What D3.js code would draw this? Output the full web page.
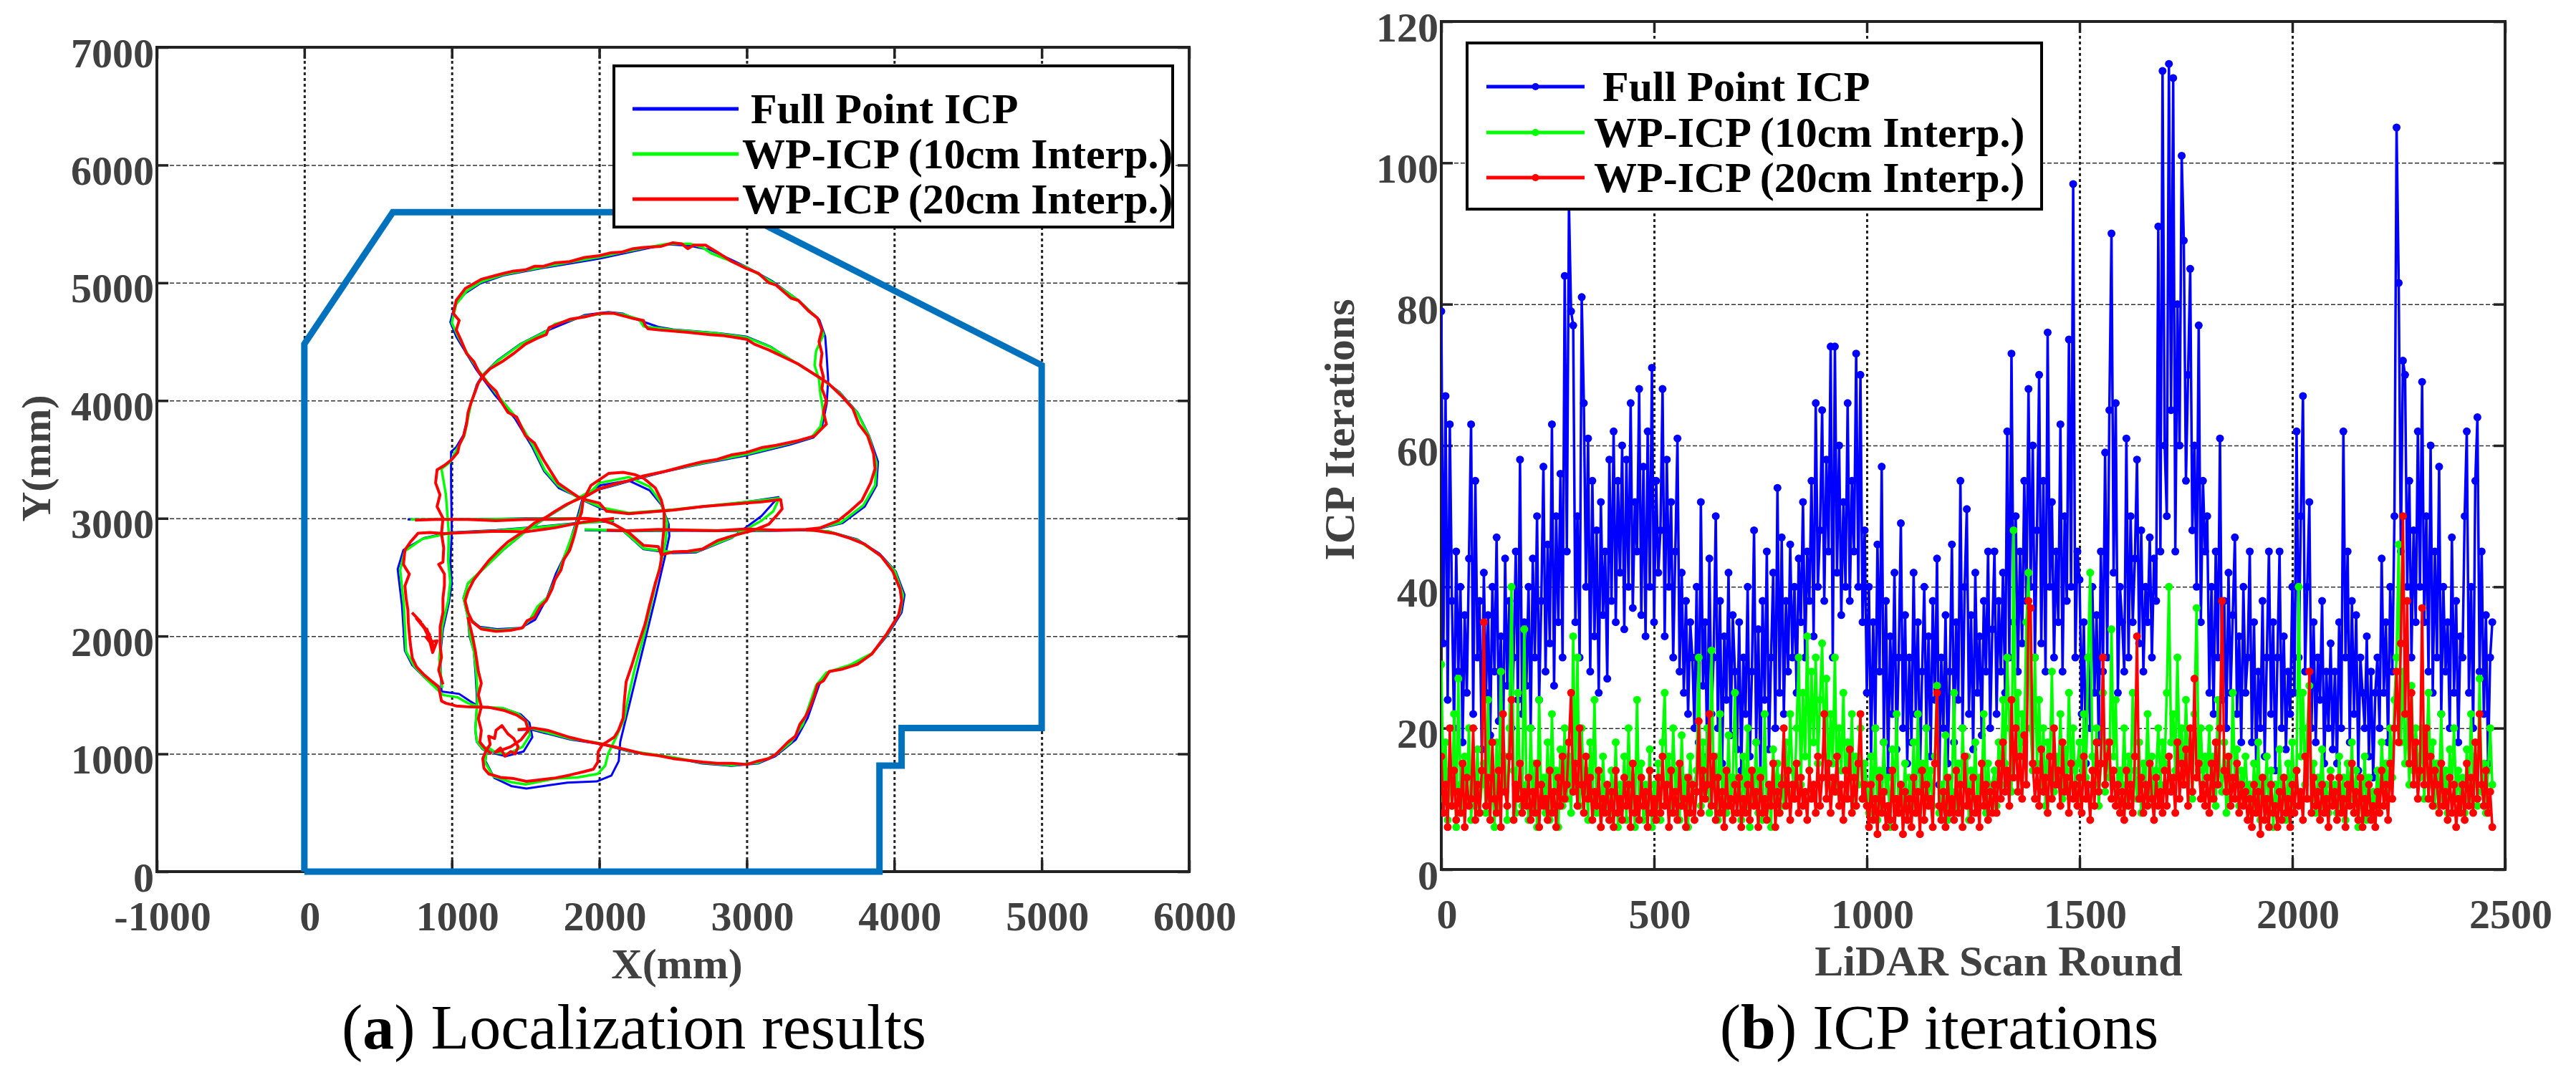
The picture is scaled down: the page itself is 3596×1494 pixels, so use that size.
<!DOCTYPE html>
<html><head><meta charset="utf-8">
<script src="https://cdn.jsdelivr.net/npm/d3@7"></script>
<style>body{margin:0;background:#fff}svg{display:block}</style>
</head><body>
<svg id="c" width="3596" height="1494"></svg>
<script>
// ---------------- (a) Localization results : data in mm ----------------
const wallX = [0, 0, 600, 2950, 5000, 5000, 4050, 4050, 3900, 3900, 0];
const wallY = [0, 4480, 5600, 5600, 4300, 1220, 1220, 900, 900, 0, 0];

const fullICP = [
 [[1864,3177],[1725,3258],[1626,3401],[1546,3605],[1427,3850],[1288,4054],[1169,4258],[1109,4380],[1030,4543],[990,4666],[1020,4808],[1089,4910],[1189,4992],[1348,5063],[1606,5124],[2003,5206],[2301,5287],[2460,5328],[2619,5314],[2758,5277],[2996,5135],[3175,5012],[3353,4849],[3492,4686],[3532,4543],[3542,4380],[3552,4176],[3542,3972],[3512,3789],[3453,3687],[3294,3626],[2996,3534],[2698,3463],[2460,3401],[2241,3330],[2102,3279],[1943,3228],[1864,3177]],
 [[1864,3177],[1705,3055],[1626,2994],[1506,2894],[1348,2731],[1228,2589],[1109,2446],[1079,2324],[1109,2161],[1189,2079],[1308,2059],[1467,2069],[1566,2140],[1645,2324],[1705,2527],[1784,2731],[1844,2976],[1884,3157],[2003,3279],[2201,3320],[2341,3238],[2420,3116],[2470,2953],[2475,2850],[2450,2700],[2380,2324],[2321,2018],[2261,1713],[2202,1407],[2142,1102],[2132,939],[2082,816],[1983,766],[1784,756],[1506,705],[1407,725],[1288,796],[1228,939],[1240,1060]],
 [[1240,1060],[1300,1000],[1367,980],[1487,1020],[1546,1142],[1526,1265],[1467,1336],[1348,1387],[1189,1397],[1120,1450],[1050,1509],[930,1529],[831,1631],[732,1753],[682,1876],[662,2263],[633,2568],[672,2731],[811,2833],[990,2880],[1300,2900],[1600,2930],[1850,2960],[2100,2975]],
 [[930,1529],[921,1835],[940,2059],[980,2283],[1000,2446],[990,2629],[1000,2874],[995,3300],[995,3565],[1030,3605],[1079,3707],[1129,3972],[1169,4135],[1209,4217],[1308,4339],[1467,4482],[1626,4584],[1784,4666],[1904,4727],[2063,4751],[2162,4737],[2261,4686],[2400,4625],[2500,4604],[2797,4574],[2996,4543],[3155,4462],[3333,4319],[3492,4197],[3627,4074],[3750,3900],[3830,3700],[3890,3480],[3880,3280],[3800,3100],[3650,2960],[3450,2900],[3000,2890],[2600,2895],[2200,2890],[1900,2900]],
 [[1447,1204],[1546,1204],[1804,1122],[2023,1081],[2202,1020],[2500,969],[2698,918],[2897,898],[3075,918],[3194,980],[3333,1122],[3413,1305],[3492,1590],[3552,1692],[3700,1750],[3850,1850],[3950,2000],[4050,2200],[4070,2350],[4010,2550],[3900,2700],[3750,2820],[3550,2890],[3400,2900]],
 [[1880,3160],[2020,3080],[2200,3040],[2500,3070],[3000,3140],[3215,3180],[3100,3020],[2897,2833],[2658,2711],[2500,2705],[2300,2738],[2142,2916],[2050,2980],[1900,3000],[1500,3000],[1100,2990],[700,2990]],
 [[1109,2161],[1120,2000],[1149,1876],[1160,1700],[1169,1509],[1169,1387],[1159,1203],[1169,1102],[1209,1040],[1260,1000]]
];

const wp10 = [
 [[1860,3175],[1720,3280],[1630,3410],[1550,3620],[1440,3850],[1300,4060],[1180,4260],[1110,4390],[1040,4550],[1000,4660],[1030,4820],[1100,4930],[1200,5010],[1350,5070],[1600,5130],[2000,5220],[2300,5295],[2460,5330],[2620,5330],[2700,5300],[2760,5250],[2900,5180],[3000,5130],[3180,5000],[3350,4850],[3480,4700],[3520,4560],[3470,4420],[3460,4300],[3490,4180],[3500,4050],[3520,3900],[3500,3780],[3440,3690],[3300,3640],[3000,3545],[2700,3470],[2460,3405],[2240,3335],[2100,3285],[1940,3232],[1860,3175]],
 [[1860,3175],[1710,3060],[1630,3000],[1510,2900],[1350,2735],[1230,2590],[1110,2450],[1080,2320],[1110,2160],[1190,2070],[1310,2050],[1470,2065],[1530,2140],[1580,2250],[1650,2330],[1690,2450],[1720,2530],[1770,2700],[1830,2900],[1870,3050],[1890,3160],[2000,3300],[2200,3350],[2340,3270],[2420,3130],[2460,2960],[2450,2800],[2430,2680],[2400,2540],[2360,2320],[2310,2040],[2240,1720],[2200,1500],[2170,1300],[2110,1130],[2060,1000],[2040,900],[1990,830],[1850,800],[1700,790],[1500,740],[1400,760],[1280,810],[1225,930],[1240,1060]],
 [[1240,1060],[1300,1010],[1380,1000],[1480,1060],[1530,1160],[1510,1270],[1450,1340],[1340,1390],[1190,1398],[1110,1430],[1040,1480],[940,1500],[840,1620],[745,1745],[690,1870],[675,2260],[650,2560],[680,2720],[800,2825],[990,2875],[1300,2895],[1600,2925],[1850,2955],[2100,2985]],
 [[935,1560],[915,1800],[935,2080],[975,2300],[990,2460],[975,2640],[980,2870],[960,3200],[930,3420],[990,3480],[1040,3600],[1085,3700],[1130,3975],[1175,4140],[1215,4220],[1310,4335],[1470,4480],[1630,4580],[1700,4650],[1790,4680],[1910,4720],[2070,4745],[2165,4730],[2270,4690],[2300,4630],[2400,4615],[2500,4600],[2800,4570],[3000,4535],[3160,4455],[3340,4315],[3495,4195],[3630,4065],[3750,3895],[3830,3690],[3880,3470],[3870,3280],[3790,3110],[3640,2965],[3450,2905],[3000,2895],[2600,2900],[2200,2895],[1900,2905]],
 [[1447,1210],[1546,1215],[1804,1130],[2023,1085],[2202,1025],[2500,970],[2698,925],[2897,905],[3075,925],[3194,990],[3300,1100],[3380,1250],[3420,1400],[3470,1580],[3540,1690],[3700,1755],[3850,1855],[3950,2010],[4040,2200],[4060,2350],[4005,2550],[3900,2690],[3750,2815],[3550,2890],[3400,2900]],
 [[1890,3160],[2020,3090],[2200,3045],[2500,3075],[3000,3140],[3220,3170],[3180,3060],[3100,2980],[2900,2840],[2660,2720],[2500,2712],[2300,2745],[2150,2910],[2050,2985],[1900,3000],[1500,2995],[1100,2990],[720,2990]],
 [[1109,2161],[1125,2000],[1150,1870],[1165,1700],[1175,1510],[1170,1390],[1160,1205],[1170,1105],[1210,1045],[1260,1005]]
];

const wp20 = [
 [[1870,3170],[1800,3230],[1720,3300],[1660,3420],[1620,3500],[1560,3640],[1500,3700],[1440,3860],[1380,3900],[1330,4000],[1300,4080],[1240,4150],[1180,4250],[1150,4330],[1100,4400],[1060,4520],[1030,4600],[1050,4680],[1010,4740],[1030,4850],[1090,4950],[1200,5030],[1350,5080],[1420,5100],[1500,5110],[1560,5140],[1620,5140],[1700,5170],[1800,5180],[1900,5215],[2000,5230],[2080,5255],[2150,5260],[2230,5290],[2300,5300],[2420,5310],[2500,5340],[2560,5330],[2600,5290],[2640,5320],[2720,5320],[2760,5290],[2800,5260],[2900,5180],[3000,5120],[3080,5080],[3150,5000],[3200,4980],[3300,4870],[3350,4850],[3420,4760],[3480,4700],[3510,4600],[3490,4500],[3510,4400],[3500,4300],[3520,4200],[3510,4100],[3540,4000],[3520,3900],[3540,3800],[3460,3700],[3350,3660],[3200,3620],[3100,3600],[3000,3560],[2900,3540],[2800,3500],[2700,3480],[2600,3450],[2450,3400],[2300,3360],[2200,3320],[2100,3290],[2000,3250],[1930,3200],[1870,3170]],
 [[1870,3170],[1780,3120],[1700,3060],[1640,3010],[1560,2960],[1500,2900],[1440,2850],[1380,2800],[1320,2730],[1250,2640],[1200,2560],[1150,2480],[1110,2380],[1090,2300],[1110,2200],[1140,2120],[1200,2060],[1300,2040],[1400,2050],[1480,2070],[1510,2130],[1560,2160],[1600,2250],[1640,2300],[1680,2400],[1700,2480],[1740,2560],[1760,2650],[1800,2730],[1830,2850],[1850,2950],[1880,3050],[1890,3150],[1943,3279],[2063,3381],[2162,3391],[2241,3371],[2301,3340],[2380,3258],[2420,3157],[2440,3055],[2440,2935],[2430,2800],[2420,2650],[2410,2568],[2380,2450],[2341,2263],[2310,2100],[2261,1916],[2220,1750],[2182,1611],[2170,1450],[2162,1305],[2130,1200],[2102,1142],[2050,1100],[2023,1081]],
 [[2023,1081],[1993,1020],[1990,930],[1960,870],[1900,850],[1800,820],[1705,796],[1600,780],[1506,766],[1420,790],[1330,800],[1250,830],[1218,878],[1210,960],[1230,1020],[1260,1080],[1250,1150],[1290,1130],[1300,1200],[1340,1240],[1380,1170],[1420,1130],[1450,1060],[1430,1000],[1400,1020],[1360,980],[1330,1050],[1290,1010]],
 [[1290,1010],[1400,1060],[1470,1120],[1520,1200],[1500,1280],[1440,1330],[1350,1370],[1250,1395],[1169,1397],[1100,1400],[1030,1407],[960,1430],[930,1448],[911,1570],[860,1620],[811,1672],[760,1740],[732,1815],[720,1920],[712,2018],[705,2120],[702,2222],[690,2320],[682,2426],[712,2527],[690,2570],[672,2609],[682,2731],[720,2800],[772,2874],[850,2880],[950,2870],[1100,2880],[1300,2890],[1500,2885],[1700,2920],[1900,2970],[2100,3000]],
 [[940,1590],[911,1713],[930,1820],[921,1916],[921,2079],[940,2200],[940,2324],[950,2430],[950,2527],[911,2609],[940,2629],[945,2750],[930,2870],[940,3000],[900,3100],[920,3200],[890,3300],[900,3412],[950,3450],[1000,3500],[1040,3560],[1050,3620],[1080,3700],[1100,3800],[1110,3900],[1130,3980],[1160,4080],[1180,4150],[1220,4220],[1260,4270],[1340,4330],[1420,4400],[1500,4480],[1580,4530],[1640,4560],[1660,4620],[1700,4640],[1800,4690],[1900,4710],[2000,4740],[2100,4740],[2160,4720],[2220,4700],[2300,4680],[2310,4640],[2330,4610],[2400,4600],[2500,4590],[2600,4580],[2750,4560],[2850,4550],[3000,4520],[3050,4480],[3150,4430],[3250,4370],[3350,4310],[3450,4230],[3550,4150],[3650,4030],[3720,3930],[3760,3800],[3820,3700],[3860,3550],[3870,3420],[3840,3300],[3780,3150],[3700,3060],[3620,2980],[3500,2920],[3400,2905],[3200,2900],[3000,2910],[2800,2895],[2600,2900],[2400,2905],[2200,2895],[2050,2900]],
 [[1447,1204],[1550,1220],[1650,1200],[1800,1140],[1900,1110],[2023,1081],[2102,1060],[2202,1030],[2300,1000],[2400,985],[2500,960],[2600,945],[2700,930],[2800,920],[2900,920],[3000,910],[3080,940],[3150,960],[3200,1000],[3280,1100],[3330,1150],[3360,1250],[3400,1320],[3430,1400],[3460,1500],[3480,1590],[3520,1620],[3560,1700],[3650,1720],[3750,1760],[3850,1850],[3950,2020],[4030,2180],[4050,2300],[4040,2400],[3990,2550],[3910,2680],[3800,2780],[3700,2830],[3600,2870],[3450,2900],[3400,2900]],
 [[1900,3160],[2000,3130],[2050,3060],[2200,3040],[2300,3050],[2500,3070],[2700,3100],[2900,3120],[3000,3130],[3100,3140],[3230,3160],[3240,3080],[3200,3020],[3150,2950],[3050,2900],[2900,2850],[2800,2810],[2700,2740],[2600,2720],[2500,2715],[2420,2690],[2400,2760],[2300,2770],[2200,2880],[2100,2950],[2000,2990],[1900,3000],[1700,2990],[1500,2990],[1300,2980],[1100,2990],[900,2990],[750,2985]],
 [[1109,2161],[1140,2000],[1160,1870],[1180,1700],[1200,1600],[1180,1500],[1200,1400],[1180,1300],[1200,1200],[1190,1100],[1230,1040],[1270,1000]],
 [[730,2200],[790,2120],[760,2150],[850,2010],[800,2100],[880,1900],[830,2060],[870,1860],[900,1960],[850,1950],[820,2000]]
];

const xTicksA = [-1000,0,1000,2000,3000,4000,5000,6000];
const yTicksA = [0,1000,2000,3000,4000,5000,6000,7000];

// ---------------- (b) ICP iterations (every 5th scan round) ----------------
const scanStep = 5;
const iterFull = [
79,32,67,24,63,38,20,45,28,40,18,36,25,44,63,22,55,30,38,17,
42,25,36,19,40,28,47,21,33,16,44,26,38,20,30,45,24,58,22,35,
26,40,20,44,30,50,24,38,57,28,46,32,63,26,50,35,56,30,84,45,
94,79,77,35,50,30,81,66,40,61,28,55,33,48,25,52,36,45,27,58,
38,62,35,55,42,60,34,58,40,66,37,52,45,68,36,57,33,62,40,71,
35,55,42,48,68,33,58,40,52,30,45,61,28,42,25,38,22,35,30,20,
40,18,52,26,35,16,44,22,30,50,20,38,15,33,24,42,19,36,28,17,
35,14,30,22,40,16,28,48,18,34,13,38,24,45,17,30,42,20,54,25,
47,22,38,28,46,30,40,25,44,35,52,30,45,38,55,33,66,40,48,65,
38,58,45,74,30,74,42,60,36,52,40,66,38,55,45,73,40,70,35,48,
25,40,16,35,20,46,28,57,18,38,14,33,22,42,17,30,49,20,36,15,
30,18,42,22,35,14,28,40,20,33,16,38,24,44,12,30,20,36,15,28,
46,18,35,24,55,20,40,51,22,36,17,42,25,33,19,38,28,45,20,34,
45,22,38,28,42,25,62,30,73,35,50,28,45,32,55,38,68,40,60,30,
48,70,32,55,28,76,40,52,30,45,35,63,28,50,38,75,40,97,30,45,
41,22,35,15,30,20,40,25,36,18,45,28,59,30,65,90,42,66,25,40,
35,28,61,30,50,35,44,58,32,48,28,40,35,47,30,44,38,91,45,113,
60,50,114,65,112,45,80,60,101,89,55,70,85,48,60,40,77,35,55,45,
50,25,40,22,45,30,61,24,38,20,42,25,36,47,22,33,18,40,25,30,
45,18,35,15,28,20,38,16,30,45,22,35,14,30,45,20,33,17,28,22,
40,25,62,30,50,67,28,40,52,20,35,18,30,24,38,15,28,20,32,17,
28,15,35,20,62,30,45,18,38,22,36,14,30,25,20,33,16,28,13,25,
30,20,44,25,35,18,40,28,50,105,83,45,72,70,40,55,30,48,35,62,
40,69,35,50,28,60,25,45,30,57,22,40,28,35,20,47,25,38,18,33,
30,50,62,25,40,20,55,64,28,45,22,36,15,30,35];

const iterWP10 = [
29,10,18,7,14,9,22,6,27,12,8,16,10,20,7,13,9,17,8,12,
15,8,24,10,13,6,18,9,28,11,16,7,20,40,14,8,25,12,9,34,
12,7,20,9,15,6,24,10,13,8,18,7,22,11,14,6,17,9,20,10,
16,8,33,12,30,9,20,11,14,7,18,10,24,8,13,6,16,9,12,7,
14,8,18,6,12,9,16,7,20,10,13,6,24,9,15,7,12,8,17,6,
12,9,15,7,18,25,10,16,8,20,11,14,7,19,9,13,6,16,10,12,
14,30,9,18,11,20,8,31,12,16,7,22,10,14,8,19,9,13,25,10,
12,7,16,9,20,6,13,10,18,8,14,7,22,9,12,6,17,10,15,8,
13,9,18,11,22,14,10,20,30,12,25,16,33,14,28,18,30,15,24,32,
16,27,12,22,15,30,11,20,14,25,10,18,13,22,9,16,12,20,10,15,
12,8,16,10,20,7,14,9,18,11,13,6,17,10,22,8,12,9,15,7,
13,9,18,8,22,11,15,7,20,10,14,9,16,26,8,12,10,19,7,13,
11,25,9,15,8,20,12,16,7,14,10,18,9,13,11,22,8,15,10,12,
14,9,18,12,24,15,30,20,11,48,16,25,13,22,18,35,42,20,14,30,
15,24,12,20,9,18,14,28,11,16,13,22,10,17,12,25,14,20,11,15,
18,10,22,13,30,42,16,12,20,9,15,25,11,18,13,34,16,24,10,14,
12,20,9,16,11,25,14,10,18,8,15,12,22,10,16,9,14,20,12,18,
15,25,40,18,22,14,30,16,20,12,24,15,18,10,22,37,14,20,12,16,
13,20,10,16,9,24,14,11,18,8,15,10,25,13,17,9,14,12,16,10,
12,8,15,9,18,7,13,10,16,8,14,6,12,9,17,10,13,7,15,9,
18,11,14,40,16,25,12,20,26,10,15,8,13,11,17,9,12,8,14,10,
12,8,16,9,13,7,15,10,18,8,14,6,12,9,16,7,13,8,11,9,
14,9,18,12,15,10,20,13,24,30,46,18,28,15,22,12,26,14,20,16,
13,20,10,16,25,12,18,9,15,11,22,10,14,8,17,12,20,10,14,9,
13,8,17,10,22,12,16,9,27,11,15,8,14,20,12];

const iterWP20 = [
16,8,12,6,20,9,14,7,11,8,15,6,13,9,10,20,7,12,8,14,
35,9,13,7,18,10,8,14,6,22,11,9,16,24,7,12,10,15,8,11,
9,13,7,11,8,15,6,12,9,10,7,14,8,11,6,13,9,16,10,12,
18,25,11,15,9,20,12,8,16,10,13,7,11,9,14,6,10,8,12,7,
11,6,14,8,10,7,13,9,12,6,15,8,10,7,13,9,11,6,14,8,
10,7,13,8,16,9,12,6,14,8,11,7,15,9,10,6,13,8,12,7,
11,21,8,14,10,12,22,9,16,7,13,8,11,6,14,9,10,7,12,8,
13,6,10,8,12,7,14,9,11,6,13,8,10,7,12,9,15,6,11,8,
12,20,9,14,7,12,10,15,8,13,9,11,7,14,10,12,8,16,9,13,
22,10,15,8,13,11,16,9,12,7,14,10,17,8,13,9,15,22,10,12,
9,6,12,7,10,5,13,8,11,6,9,7,14,6,10,8,12,5,11,7,
10,6,13,8,11,5,14,7,12,9,10,6,15,25,9,7,11,6,13,8,
10,7,14,8,12,6,16,9,11,7,13,8,10,6,15,9,12,7,11,8,
12,8,15,10,18,11,14,9,24,13,20,11,16,10,19,12,38,37,15,10,
14,9,17,11,13,8,16,10,20,12,14,9,18,11,13,8,15,10,12,9,
13,8,16,10,12,7,14,9,18,11,15,30,12,16,18,10,14,9,12,8,
11,7,14,9,12,8,16,33,10,13,8,12,9,15,10,7,13,9,11,8,
14,9,16,11,13,8,18,10,15,12,17,9,20,11,27,13,15,10,12,9,
13,8,15,10,18,12,20,38,14,11,16,9,13,10,15,8,12,9,11,7,
10,6,12,8,11,5,13,7,10,6,12,8,9,6,11,7,13,8,10,6,
12,8,14,9,11,7,16,10,28,8,13,9,11,7,12,8,10,6,13,9,
11,7,13,8,10,6,12,9,15,8,11,7,13,6,10,8,12,7,9,6,
11,8,14,9,12,7,15,10,20,28,18,32,50,22,38,15,25,12,18,10,
14,37,12,20,10,16,9,14,12,8,15,9,11,7,13,8,12,6,10,8,
12,7,15,9,13,8,18,10,22,12,9,14,8,11,6];

const xTicksB = [0,500,1000,1500,2000,2500];
const yTicksB = [0,20,40,60,80,100,120];

const seriesNames = ["Full Point ICP", "WP-ICP (10cm Interp.)", "WP-ICP (20cm Interp.)"];
const seriesColors = ["#0000ff", "#00ff00", "#ff0000"];

// ---------------- drawing ----------------
const svg = d3.select('#c');
const FONT = "'Liberation Serif','Times New Roman',serif";
const TICKFS = 58;

function panel(x, y, xTicks, yTicks) {
  const [x0, x1] = x.range();
  const [yb, yt] = y.range();
  const g = svg.append('g');
  g.append('g').attr('transform', `translate(0,${yb})`)
    .call(d3.axisBottom(x).tickValues(xTicks.slice(1, -1)).tickSize(-(yb - yt)).tickFormat(''))
    .call(a => a.select('.domain').remove())
    .call(a => a.selectAll('text').remove())
    .selectAll('line').attr('stroke', '#222').attr('stroke-width', 3).attr('stroke-dasharray', '4,4');
  g.append('g').attr('transform', `translate(${x0},0)`)
    .call(d3.axisLeft(y).tickValues(yTicks.slice(1, -1)).tickSize(-(x1 - x0)).tickFormat(''))
    .call(a => a.select('.domain').remove())
    .call(a => a.selectAll('text').remove())
    .selectAll('line').attr('stroke', '#333').attr('stroke-width', 1.5).attr('stroke-dasharray', '6,3');
  const tk = (sel) => sel.call(a => a.select('.domain').remove())
    .call(a => a.selectAll('text').remove())
    .selectAll('line').attr('stroke', '#222').attr('stroke-width', 3.5);
  g.append('g').attr('transform', `translate(${x0},0)`).call(d3.axisLeft(y).tickValues(yTicks).tickSize(-16).tickFormat('')).call(tk);
  g.append('g').attr('transform', `translate(${x1},0)`).call(d3.axisRight(y).tickValues(yTicks).tickSize(-16).tickFormat('')).call(tk);
  g.append('g').attr('transform', `translate(0,${yb})`).call(d3.axisBottom(x).tickValues(xTicks).tickSize(-16).tickFormat('')).call(tk);
  g.append('g').attr('transform', `translate(0,${yt})`).call(d3.axisTop(x).tickValues(xTicks).tickSize(-16).tickFormat('')).call(tk);
  g.append('rect').attr('x', x0).attr('y', yt).attr('width', x1 - x0).attr('height', yb - yt)
    .attr('fill', 'none').attr('stroke', '#222').attr('stroke-width', 4);
  const lab = g.append('g').attr('font-family', FONT).attr('font-weight', 'bold')
    .attr('font-size', TICKFS).attr('fill', '#404040');
  lab.selectAll('text.y').data(yTicks).join('text').attr('class', 'y')
    .attr('x', x0 - 4).attr('y', d => y(d) + 8).attr('text-anchor', 'end')
    .attr('dominant-baseline', 'central').text(d => String(d));
  lab.selectAll('text.x').data(xTicks).join('text').attr('class', 'x')
    .attr('x', d => x(d) + 8).attr('y', yb + 62).attr('text-anchor', 'middle')
    .attr('dominant-baseline', 'central').text(d => String(d));
  return g;
}

function legend(x, y, w, h, rows, lineX0, lineX1, textX, markers) {
  const g = svg.append('g');
  g.append('rect').attr('x', x).attr('y', y).attr('width', w).attr('height', h)
    .attr('fill', '#fff').attr('stroke', '#000').attr('stroke-width', 4);
  seriesNames.forEach((name, i) => {
    const yy = rows[i];
    g.append('line').attr('x1', lineX0).attr('x2', lineX1).attr('y1', yy).attr('y2', yy)
      .attr('stroke', seriesColors[i]).attr('stroke-width', 5);
    if (markers) g.append('circle').attr('cx', (lineX0 + lineX1) / 2).attr('cy', yy).attr('r', 5).attr('fill', seriesColors[i]);
    g.append('text').attr('x', textX + (i === 0 ? 12 : 0)).attr('y', yy).attr('dominant-baseline', 'central')
      .attr('font-family', FONT).attr('font-weight', 'bold').attr('font-size', 60).attr('fill', '#000').text(name);
  });
}

function label(txt, x, y, rot, fs, fill) {
  const t = svg.append('text').attr('font-family', FONT).attr('font-weight', 'bold')
    .attr('font-size', fs).attr('fill', fill).attr('text-anchor', 'middle')
    .attr('dominant-baseline', 'central').text(txt);
  if (rot) t.attr('transform', `translate(${x},${y}) rotate(-90)`);
  else t.attr('x', x).attr('y', y);
  return t;
}

function caption(letter, rest, x) {
  const t = svg.append('text').attr('x', x).attr('y', 1434).attr('text-anchor', 'middle')
    .attr('dominant-baseline', 'central').attr('font-family', FONT).attr('font-size', 88).attr('fill', '#000');
  t.append('tspan').text('(');
  t.append('tspan').attr('font-weight', 'bold').text(letter);
  t.append('tspan').text(rest);
}

// ---- panel (a)
const xa = d3.scaleLinear().domain([-1000, 6000]).range([219, 1660]);
const ya = d3.scaleLinear().domain([0, 7000]).range([1217, 66]);
panel(xa, ya, xTicksA, yTicksA);

const lineA = d3.line().x(d => xa(d[0])).y(d => ya(d[1]));
svg.append('path').datum(wallX.map((v, i) => [v, wallY[i]])).attr('d', lineA)
  .attr('fill', 'none').attr('stroke', '#0072bd').attr('stroke-width', 9).attr('stroke-linejoin', 'miter');
[[fullICP, seriesColors[0], 3], [wp10, seriesColors[1], 3.5], [wp20, seriesColors[2], 4]].forEach(([segs, col, w]) => {
  svg.append('g').selectAll('path').data(segs).join('path').attr('d', lineA)
    .attr('fill', 'none').attr('stroke', col).attr('stroke-width', w).attr('stroke-linejoin', 'round');
});
legend(857, 92, 780, 225, [152, 215, 278], 883, 1031, 1036, false);
label('Y(mm)', 50, 640, true, 58, '#404040');
label('X(mm)', 945, 1346, false, 60, '#404040');
caption('a', ') Localization results', 885);

// ---- panel (b)
const xb = d3.scaleLinear().domain([0, 2500]).range([2012, 3497]);
const yb = d3.scaleLinear().domain([0, 120]).range([1214, 30]);
panel(xb, yb, xTicksB, yTicksB);
svg.append('clipPath').attr('id', 'clipB').append('rect')
  .attr('x', 2012).attr('y', 30).attr('width', 3497 - 2012).attr('height', 1214 - 30);
const gB = svg.append('g').attr('clip-path', 'url(#clipB)');
const lineB = d3.line().x((d, i) => xb(i * scanStep)).y(d => yb(d));
[iterFull, iterWP10, iterWP20].forEach((vals, k) => {
  const gs = gB.append('g');
  gs.append('path').datum(vals).attr('d', lineB).attr('fill', 'none')
    .attr('stroke', seriesColors[k]).attr('stroke-width', 3.5);
  gs.selectAll('circle').data(vals).join('circle')
    .attr('cx', (d, i) => xb(i * scanStep)).attr('cy', d => yb(d)).attr('r', 5.5).attr('fill', seriesColors[k]);
});
legend(2048, 60, 802, 232, [121, 185, 248], 2075, 2212, 2225, true);
label('ICP Iterations', 1870, 600, true, 60, '#404040');
label('LiDAR Scan Round', 2790, 1342, false, 60, '#404040');
caption('b', ') ICP iterations', 2707);
</script>
</body></html>
